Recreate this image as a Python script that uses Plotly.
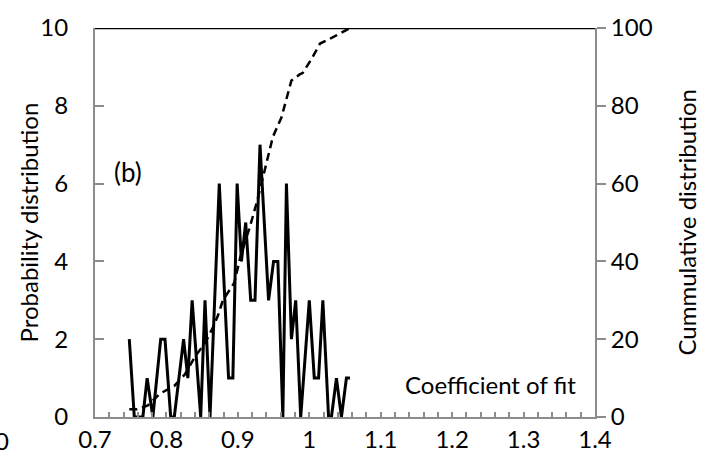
import plotly.graph_objects as go

# Probability distribution (solid line, left axis)
prob_x = [0.748, 0.755, 0.767, 0.773, 0.781, 0.792, 0.798, 0.806, 0.811, 0.824,
          0.830, 0.836, 0.848, 0.854, 0.861, 0.874, 0.887, 0.893, 0.899, 0.905,
          0.911, 0.918, 0.924, 0.931, 0.943, 0.950, 0.956, 0.963, 0.968, 0.975,
          0.981, 0.988, 1.000, 1.007, 1.013, 1.019, 1.027, 1.031, 1.038, 1.045,
          1.052, 1.057]
prob_y = [2, 0, 0, 1, 0, 2, 2, 0, 0, 2,
          1, 3, 0, 3, 0, 6, 1, 1, 6, 4,
          5, 3, 3, 7, 3, 4, 4, 0, 6, 2,
          3, 0, 3, 1, 1, 3, 0, 0, 1, 0,
          1, 1]

# Cumulative distribution (dashed line, right axis)
cum_x = [0.748, 0.759, 0.774, 0.791, 0.811, 0.826, 0.840, 0.854, 0.865, 0.872,
         0.879, 0.895, 0.904, 0.917, 0.927, 0.938, 0.949, 0.961, 0.968, 0.975,
         0.986, 0.991, 1.003, 1.015, 1.032, 1.047, 1.057]
cum_y = [2, 2, 3, 6, 8, 11, 15.5, 19, 23, 26,
         30, 34.5, 41.5, 49, 55.5, 63.5, 72, 77, 82, 86.5,
         88, 88.5, 92, 96, 97.5, 99, 100]

x_ticks = [0.7, 0.8, 0.9, 1.0, 1.1, 1.2, 1.3, 1.4]
x_tick_text = ["0.7", "0.8", "0.9", "1", "1.1", "1.2", "1.3", "1.4"]

FONT = "Lato, 'Open Sans', sans-serif"
GRAY = "#8c8c8c"
FS = 24

fig = go.Figure()
fig.add_trace(go.Scatter(x=prob_x, y=prob_y, mode="lines",
                         line=dict(color="black", width=3), showlegend=False))
fig.add_trace(go.Scatter(x=cum_x, y=cum_y, mode="lines", yaxis="y2",
                         line=dict(color="black", width=2.5, dash="8px,5px"),
                         showlegend=False))

fig.update_layout(
    width=702, height=465,
    margin=dict(l=95, r=107, t=16, b=45),
    paper_bgcolor="white", plot_bgcolor="white",
    font=dict(family=FONT, size=FS, color="black"),
    xaxis=dict(range=[0.7, 1.4], tickvals=x_ticks, ticktext=x_tick_text,
               showgrid=False, zeroline=False, showline=True,
               linecolor=GRAY, linewidth=2, ticks="inside", ticklen=5,
               tickcolor=GRAY, tickwidth=1.5,
               minor=dict(dtick=0.02, tick0=0.7, ticks="inside", ticklen=5,
                          tickcolor=GRAY, tickwidth=1.5),
               tickfont=dict(size=FS), ticklabelstandoff=0),
    yaxis=dict(range=[0, 10], dtick=2, showgrid=False, zeroline=False,
               showline=True, linecolor=GRAY, linewidth=2,
               ticks="inside", ticklen=9, tickcolor=GRAY, tickwidth=2,
               tickfont=dict(size=FS), ticklabelstandoff=20),
    yaxis2=dict(range=[0, 100], dtick=20, overlaying="y", side="right",
                showgrid=False, zeroline=False, showline=True,
                linecolor=GRAY, linewidth=2, ticks="outside", ticklen=9,
                tickcolor=GRAY, tickwidth=2, tickfont=dict(size=FS),
                ticklabelstandoff=0),
    shapes=[dict(type="line", xref="paper", yref="y", x0=0, x1=1, y0=10, y1=10,
                 line=dict(color="black", width=2.5))],
    annotations=[
        dict(text="(b)", x=(128 - 95) / 500, y=6.3, xref="paper", yref="y",
             showarrow=False, font=dict(size=26), xanchor="center", yanchor="middle"),
        dict(text="Coefficient of fit", x=(578 - 95) / 500, y=0.83,
             xref="paper", yref="y",
             showarrow=False, font=dict(size=FS), xanchor="right", yanchor="middle"),
        dict(text="Probability distribution", x=(28 - 95) / 500, y=0.5,
             xref="paper", yref="paper",
             showarrow=False, textangle=-90, font=dict(size=FS),
             xanchor="center", yanchor="middle"),
        dict(text="Cummulative distribution", x=(686 - 95) / 500, y=0.5,
             xref="paper", yref="paper",
             showarrow=False, textangle=-90, font=dict(size=FS),
             xanchor="center", yanchor="middle"),
        dict(text="0", x=(11 - 95) / 500, y=-0.06,
             xref="paper", yref="paper",
             showarrow=False, font=dict(size=FS), xanchor="right", yanchor="middle"),
    ],
)

fig.write_html("out.html", config={"displayModeBar": False},
               post_script="document.body.style.margin='0';")
